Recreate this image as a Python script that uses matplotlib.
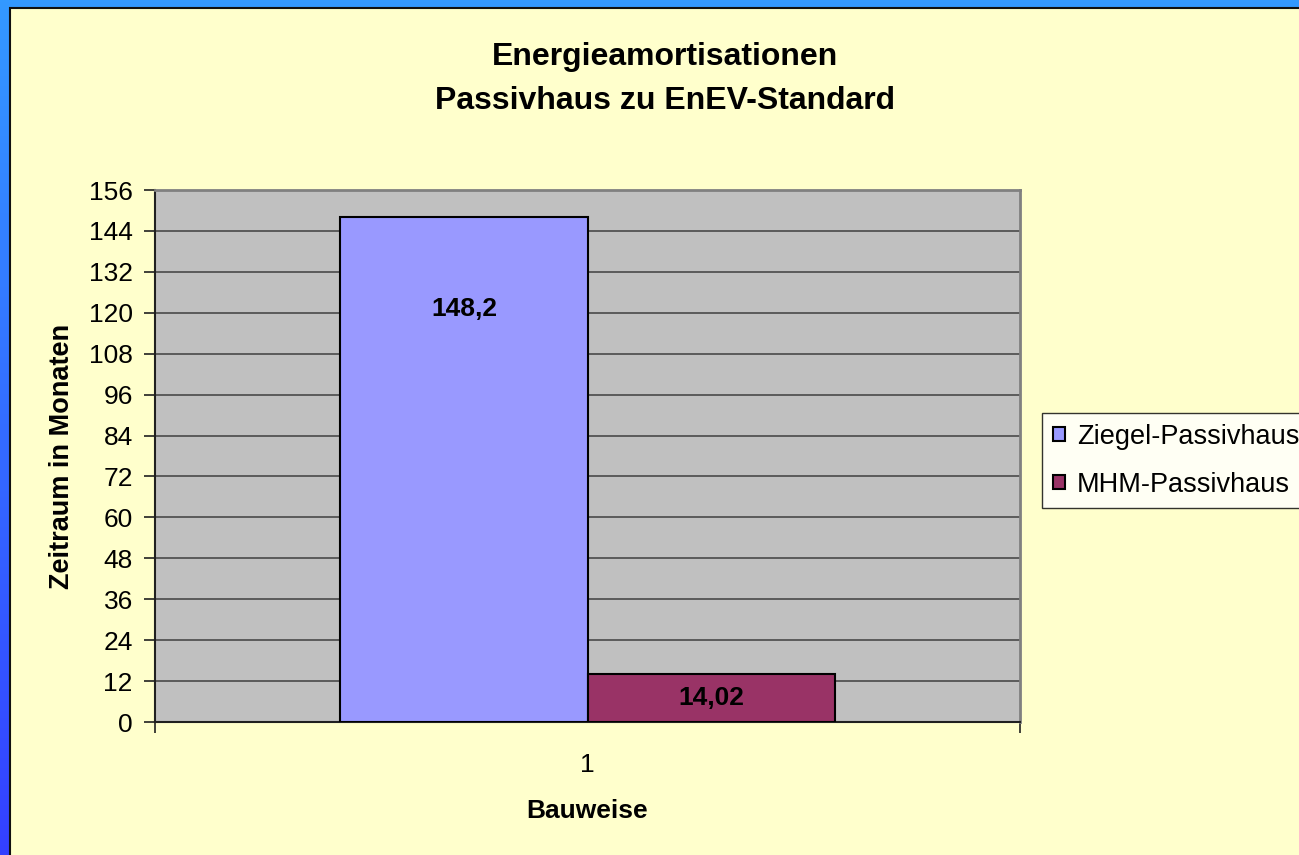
import numpy as np
import matplotlib.pyplot as plt
from matplotlib.patches import Rectangle
from matplotlib.colors import LinearSegmentedColormap

plt.switch_backend('Agg')
plt.rcParams['font.family'] = ['Liberation Sans', 'DejaVu Sans']

# Daten
kategorien = ['1']
serien = ['Ziegel-Passivhaus', 'MHM-Passivhaus']
werte = [148.2, 14.02]
beschriftungen = ['148,2', '14,02']
farben = ['#9999FF', '#993366']
y_ticks = list(range(0, 157, 12))

W, H = 1299, 855
fig = plt.figure(figsize=(W / 100, H / 100), dpi=100)

# Blauer Rahmen mit Verlauf
bg = fig.add_axes([0, 0, 1, 1], zorder=0)
bg.set_axis_off()
cmap = LinearSegmentedColormap.from_list('rahmen', ['#3399FF', '#3340FF'])
bg.imshow(np.linspace(0, 1, 256).reshape(-1, 1), aspect='auto', cmap=cmap,
          extent=[0, 1, 0, 1], origin='upper')
bg.add_patch(Rectangle((10 / W, -0.05), 1, 0.05 + (H - 8) / H, facecolor='#FFFFCC',
                       edgecolor='#101010', linewidth=1.5, transform=bg.transAxes))
bg.set_xlim(0, 1)
bg.set_ylim(0, 1)

# Diagramm
ax = fig.add_axes([155 / W, (H - 722) / H, 865 / W, 532 / H], zorder=2)
ax.set_facecolor('#C0C0C0')

breite = 1 / 3.5
links = 0.75 * breite
for i, (name, wert, farbe) in enumerate(zip(serien, werte, farben)):
    ax.bar(links + i * breite, wert, width=breite, align='edge', color=farbe,
           edgecolor='black', linewidth=1.5, label=name, zorder=3)

# Datenbeschriftungen (Lage wie im Original)
label_y = [werte[0] - 27, werte[1] / 2]
for i, (txt, y) in enumerate(zip(beschriftungen, label_y)):
    ax.text(links + (i + 0.5) * breite, y, txt, ha='center', va='center',
            fontsize=19, fontweight='bold', zorder=4)

ax.set_xlim(0, 1)
ax.set_ylim(0, 156)
ax.set_yticks(y_ticks)
ax.tick_params(axis='y', labelsize=19, length=8, width=1.2, direction='out',
               pad=8, color='#202020')
ax.set_xticks([0, 1])
ax.set_xticklabels(['', ''])
ax.set_xticks([0.5], minor=True)
ax.set_xticklabels(kategorien, minor=True)
ax.tick_params(axis='x', which='major', length=8, width=1.2, direction='out',
               color='#202020')
ax.tick_params(axis='x', which='minor', length=0, labelsize=19, pad=22)

ax.grid(axis='y', color='#404040', linewidth=1.1, zorder=1)
ax.set_axisbelow(True)
for s in ['top', 'right']:
    ax.spines[s].set_color('#808080')
    ax.spines[s].set_linewidth(2)
for s in ['left', 'bottom']:
    ax.spines[s].set_color('#202020')
    ax.spines[s].set_linewidth(1.5)

ax.set_ylabel('Zeitraum in Monaten', fontsize=19.5, fontweight='bold', labelpad=10)
ax.set_xlabel('Bauweise', fontsize=19, fontweight='bold', labelpad=16)

fig.text(665 / W, 1 - 57 / H, 'Energieamortisationen', ha='center', va='center',
         fontsize=23, fontweight='bold')
fig.text(665 / W, 1 - 101 / H, 'Passivhaus zu EnEV-Standard', ha='center',
         va='center', fontsize=23, fontweight='bold')

leg = fig.legend(loc='upper left', bbox_to_anchor=(1042 / W, 1 - 413 / H),
                 fontsize=19.5, handlelength=0.45, handleheight=0.45,
                 handletextpad=0.45, labelspacing=0.8, borderpad=0.4,
                 frameon=True, fancybox=False, borderaxespad=0)
leg.get_frame().set_edgecolor('black')
leg.get_frame().set_linewidth(1.0)
leg.set_zorder(5)

fig.savefig('out.png', dpi=100)
